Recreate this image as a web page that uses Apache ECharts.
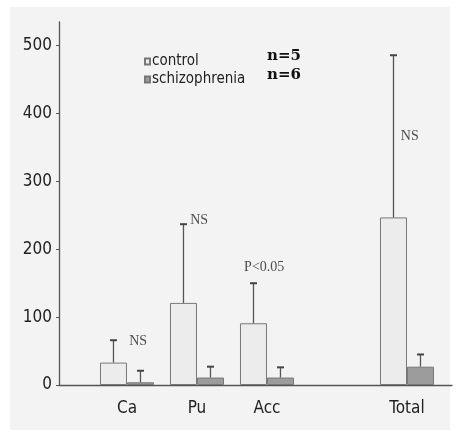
<!DOCTYPE html>
<html>
<head>
<meta charset="utf-8">
<script src="https://cdn.jsdelivr.net/npm/echarts@6/dist/echarts.min.js"></script>
<style>
  html, body { margin: 0; padding: 0; background: #fff; }
  #chart { width: 458px; height: 439px; }
</style>
</head>
<body>
<div id="chart"></div>
<script>
(function (win, echarts) {
    // data
    var categories = ['Ca', 'Pu', 'Acc', 'Total'],
        catPos = [0, 1, 2, 4],
        control = [33, 121, 91, 247],
        controlSd = [33, 116, 59, 239],
        schizo = [4, 11, 11, 27],
        schizoSd = [17, 16, 15, 18],
        yTicks = [0, 100, 200, 300, 400, 500],
        notes = ['NS', 'NS', 'P<0.05', 'NS'],
        notePos = [[0.16, 65], [1.03, 243], [1.96, 174], [4.04, 367]];

    var BAR_W = 27,
        sansFont = '"Liberation Sans Narrow", "DejaVu Sans Condensed", sans-serif',
        serifFont = '"Liberation Serif", serif';

    var chart = echarts.init(document.getElementById('chart'));

    function pairs(vals, extra) {
        var out = [];
        for (var i = 0; i < vals.length; i++) {
            out.push(extra ? [catPos[i], vals[i], extra[i]] : [catPos[i], vals[i]]);
        }
        return out;
    }

    //error bars, shifted onto their bar
    function errorBar(shift) {
        return function (params, api) {
            var base = api.coord([api.value(0), api.value(1)]),
                top = api.coord([api.value(0), api.value(1) + api.value(2)]),
                x = base[0] + shift;
            return {
                type: 'group',
                children: [
                    {
                        type: 'line',
                        shape: { x1: x, y1: base[1], x2: x, y2: top[1] },
                        style: { stroke: '#555', lineWidth: 1.3 }
                    },
                    {
                        type: 'line',
                        shape: { x1: x - 3.5, y1: top[1], x2: x + 3.5, y2: top[1] },
                        style: { stroke: '#444', lineWidth: 2 }
                    }
                ]
            };
        };
    }

    var noteData = [];
    for (var k = 0; k < notes.length; k++) {
        noteData.push({ value: notePos[k], name: notes[k] });
    }

    chart.setOption({
        backgroundColor: '#fff',
        animation: false,
        graphic: {
            elements: [
                {
                    type: 'rect',
                    z: -10,
                    shape: { x: 10, y: 7, width: 440, height: 423 },
                    style: { fill: '#f3f3f3' }
                },
                {
                    type: 'text',
                    left: 267,
                    top: 49,
                    style: { text: 'n=5', font: 'bold 15px "DejaVu Serif", serif', fill: '#111' }
                },
                {
                    type: 'text',
                    left: 267,
                    top: 68,
                    style: { text: 'n=6', font: 'bold 15px "DejaVu Serif", serif', fill: '#111' }
                }
            ]
        },
        legend: {
            data: ['control', 'schizophrenia'],
            orient: 'vertical',
            left: 139,
            top: 49,
            icon: 'rect',
            itemWidth: 5,
            itemHeight: 6,
            itemGap: 3,
            textStyle: { fontFamily: sansFont, fontSize: 15, color: '#222', padding: [0, 0, 0, -3] }
        },
        grid: { left: 59, right: 6, top: 22, bottom: 54 },
        xAxis: {
            type: 'value',
            min: -0.971,
            max: 4.643,
            splitLine: { show: false },
            axisLine: { show: true, lineStyle: { color: '#555', width: 1.3 } },
            axisTick: { show: false },
            axisLabel: {
                customValues: catPos,
                formatter: function (v) {
                    return categories[catPos.indexOf(v)] || '';
                },
                margin: 15,
                fontFamily: sansFont,
                fontSize: 17,
                color: '#222'
            }
        },
        yAxis: {
            type: 'value',
            min: 0,
            max: 535,
            splitLine: { show: false },
            axisLine: { show: true, onZero: false, lineStyle: { color: '#555', width: 1.3 } },
            axisTick: { show: true, customValues: yTicks, length: 3, lineStyle: { color: '#555' } },
            axisLabel: {
                customValues: yTicks,
                margin: 7,
                fontFamily: sansFont,
                fontSize: 17,
                color: '#222'
            }
        },
        series: [
            {
                name: 'control',
                type: 'bar',
                barWidth: BAR_W,
                barGap: '0%',
                itemStyle: { color: '#ececec', borderColor: '#777', borderWidth: 1 },
                data: pairs(control)
            },
            {
                name: 'schizophrenia',
                type: 'bar',
                barWidth: BAR_W,
                barGap: '0%',
                itemStyle: { color: '#9c9c9c', borderColor: '#777', borderWidth: 1 },
                data: pairs(schizo)
            },
            {
                type: 'custom',
                renderItem: errorBar(-BAR_W / 2),
                data: pairs(control, controlSd),
                z: 3
            },
            {
                type: 'custom',
                renderItem: errorBar(BAR_W / 2),
                data: pairs(schizo, schizoSd),
                z: 3
            },
            {
                type: 'scatter',
                symbolSize: 0,
                data: noteData,
                label: {
                    show: true,
                    position: 'inside',
                    formatter: '{b}',
                    fontFamily: serifFont,
                    fontSize: 14,
                    color: '#222'
                }
            }
        ]
    });
})(this, echarts);
</script>
</body>
</html>
